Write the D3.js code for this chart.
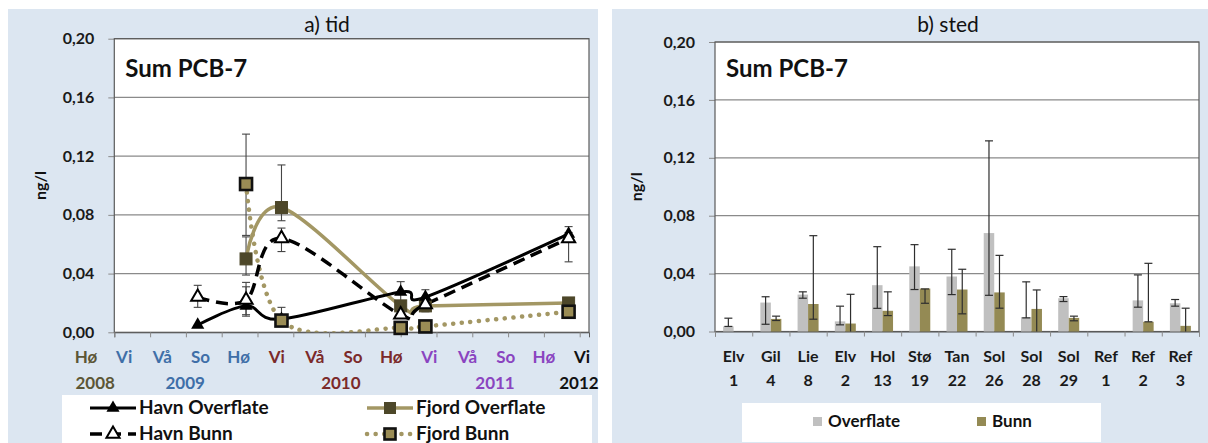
<!DOCTYPE html>
<html><head><meta charset="utf-8">
<script src="https://cdn.jsdelivr.net/npm/d3@7"></script>
<style>
body{margin:0;background:#fff;}
text{font-family:Lato,"Open Sans",sans-serif;}
</style>
</head><body>
<svg id="c" width="1208" height="443"></svg>
<script>
// ---------- shared ----------
const yTicks = [0, 0.04, 0.08, 0.12, 0.16, 0.20];
const yLabel = "ng/l";
const panelLabel = "Sum PCB-7";

// ---------- a) tid ----------
const seasonLabels = ["Hø","Vi","Vå","So","Hø","Vi","Vå","So","Hø","Vi","Vå","So","Hø","Vi"];
const seasonYear   = ["2008","2009","2009","2009","2009","2010","2010","2010","2010","2011","2011","2011","2011","2012"];
const yearLabels   = ["2008","2009","2010","2011","2012"];
const yearLabelIdx = [0.24, 2.6, 6.68, 10.72, 12.92];
const yearColors   = {"2008":"#5c5636","2009":"#3f6fa8","2010":"#7b2a2a","2011":"#8a44c0","2012":"#111111"};

const havnTime = [2.33, 3.68, 4.67, 8.00, 8.69, 12.69];
const havnOverflate         = [0.005, 0.018, 0.009, 0.0275, 0.024, 0.067];
const havnOverflateErrMinus = [null, 0.006, null, 0.007, 0.005, 0.005];
const havnOverflateErrPlus  = [null, 0.013, null, 0.007, 0.005, 0.005];
const havnBunn              = [0.024, 0.022, 0.064, 0.012, 0.019, 0.064];
const havnBunnErrMinus      = [0.007, 0.011, 0.009, null, 0.005, 0.016];
const havnBunnErrPlus       = [0.008, 0.012, 0.007, null, 0.005, 0.004];

const fjordTime = [3.68, 4.67, 8.00, 8.69, 12.69];
const fjordOverflate         = [0.050, 0.085, 0.018, 0.018, 0.020];
const fjordOverflateErrMinus = [0.011, 0.009, null, null, null];
const fjordOverflateErrPlus  = [0.015, 0.029, null, null, null];
const fjordBunn              = [0.101, 0.008, 0.003, 0.004, 0.014];
const fjordBunnErrMinus      = [0.035, 0.003, null, null, null];
const fjordBunnErrPlus       = [0.034, 0.009, null, null, null];

// ---------- b) sted ----------
const siteNames   = ["Elv","Gil","Lie","Elv","Hol","Stø","Tan","Sol","Sol","Sol","Ref","Ref","Ref"];
const siteNumbers = ["1","4","8","2","13","19","22","26","28","29","1","2","3"];
const overflate     = [0.0035, 0.020, 0.0255, 0.007, 0.032, 0.045, 0.038, 0.068, 0.010, 0.023, null, 0.0215, 0.0195];
const overflateLow  = [0.0035, 0.005, 0.023, 0.0046, 0.016, 0.029, 0.0255, 0.025, 0.0094, 0.0207, null, 0.0168, 0.0175];
const overflateHigh = [0.0092, 0.024, 0.0274, 0.0175, 0.0586, 0.060, 0.0568, 0.1317, 0.0343, 0.0241, null, 0.0391, 0.0221];
const bunn     = [null, 0.0087, 0.019, 0.0055, 0.0143, 0.0297, 0.029, 0.027, 0.0156, 0.0094, null, 0.0067, 0.0039];
const bunnLow  = [null, 0.0076, 0.0085, 0, 0.011, 0.0195, 0.0122, 0.0161, 0, 0.0074, null, 0.0067, 0];
const bunnHigh = [null, 0.0106, 0.0662, 0.0257, 0.0274, 0.0294, 0.043, 0.0526, 0.0287, 0.0106, null, 0.0471, 0.0161];
const barSeries = ["Overflate","Bunn"];

// ---------- styles ----------
const BG = "#dce6f1";
const OLIVE_LINE = "#a39764";
const OLIVE_DARK = "#4d4729";
const OLIVE_FILL = "#9a8c55";
const GRAY_BAR = "#c0c0c0";
const BUNN_BAR = "#948a54";
const fmt = d => d.toFixed(2).replace(".", ",");

const svg = d3.select("#c");
svg.append("rect").attr("x",8).attr("y",9).attr("width",590).attr("height",434).attr("fill",BG);
svg.append("rect").attr("x",612).attr("y",9).attr("width",596).attr("height",434).attr("fill",BG);

function frame(g, x0, x1, y, title, titleX, ylabX) {
  g.append("rect").attr("x",x0).attr("y",y.range()[1]).attr("width",x1-x0)
    .attr("height",y.range()[0]-y.range()[1]).attr("fill","#fff");
  g.selectAll(null).data(yTicks.filter(d=>d>0)).enter().append("line")
    .attr("x1",x0).attr("x2",x1).attr("y1",d=>y(d)).attr("y2",d=>y(d))
    .attr("stroke","#8a8a8a").attr("stroke-width",1.2);
  const ax = g.append("g").attr("transform",`translate(${x0},0)`)
    .call(d3.axisLeft(y).tickValues(yTicks).tickFormat(fmt).tickSize(6).tickPadding(14));
  ax.select(".domain").remove();
  ax.selectAll("line").attr("stroke","#8a8a8a");
  ax.selectAll("text").attr("font-size",16).attr("font-weight","bold").attr("fill","#1a1a1a");
  g.append("rect").attr("x",x0).attr("y",y.range()[1]).attr("width",x1-x0)
    .attr("height",y.range()[0]-y.range()[1]).attr("fill","none")
    .attr("stroke","#5a5a5a").attr("stroke-width",1.2);
  g.append("text").attr("x",titleX).attr("y",32).attr("text-anchor","middle")
    .attr("font-size",21).attr("fill","#111").text(title);
  g.append("text").attr("x",x0+11).attr("y",77).attr("font-size",24)
    .attr("font-weight","bold").attr("fill","#111").text(panelLabel);
  g.append("text").attr("transform",`translate(${ylabX},${(y.range()[0]+y.range()[1])/2}) rotate(-90)`)
    .attr("text-anchor","middle").attr("font-size",16).attr("font-weight","bold")
    .attr("fill","#111").text(yLabel);
}

// =================== LEFT ===================
const Lx = d3.scaleLinear().domain([0, 13.26]).range([114.3, 589]);
const Ly = d3.scaleLinear().domain([0, 0.2]).range([332.3, 38.7]);
const gL = svg.append("g");
frame(gL, 114.3, 589, Ly, "a) tid", 327, 46);

const xax = gL.append("g").attr("transform",`translate(0,${Ly(0)})`)
  .call(d3.axisBottom(Lx).tickValues(d3.range(14)).tickFormat("").tickSize(5));
xax.select(".domain").attr("stroke","#5a5a5a");
xax.selectAll("line").attr("stroke","#8a8a8a");

const labX = d3.scaleLinear().domain([0,13]).range([86, 582]);
gL.selectAll(null).data(seasonLabels).enter().append("text")
  .attr("x",(d,i)=>labX(i)).attr("y",363).attr("text-anchor","middle")
  .attr("font-size",17).attr("font-weight","bold")
  .attr("fill",(d,i)=>yearColors[seasonYear[i]]).text(d=>d);
gL.selectAll(null).data(yearLabels).enter().append("text")
  .attr("x",(d,i)=>labX(yearLabelIdx[i])).attr("y",389).attr("text-anchor","middle")
  .attr("font-size",17).attr("font-weight","bold")
  .attr("fill",d=>yearColors[d]).text(d=>d);

svg.append("defs").append("clipPath").attr("id","clipL").append("rect")
  .attr("x",114.3).attr("y",38.7).attr("width",589-114.3).attr("height",332.3-38.7);

const mk = (t, v, em, ep) => t.map((tt,i)=>({t:tt, v:v[i], em:em[i], ep:ep[i]}));
const sHO = mk(havnTime, havnOverflate, havnOverflateErrMinus, havnOverflateErrPlus);
const sHB = mk(havnTime, havnBunn, havnBunnErrMinus, havnBunnErrPlus);
const sFO = mk(fjordTime, fjordOverflate, fjordOverflateErrMinus, fjordOverflateErrPlus);
const sFB = mk(fjordTime, fjordBunn, fjordBunnErrMinus, fjordBunnErrPlus);

const eg = gL.append("g").attr("stroke","#454545").attr("stroke-width",1.1);
[sHO,sHB,sFO,sFB].forEach(s => s.filter(d=>d.em!=null).forEach(d=>{
  const x = Lx(d.t), lo = Math.max(0,d.v-d.em), hi = d.v+d.ep;
  eg.append("line").attr("x1",x).attr("x2",x).attr("y1",Ly(lo)).attr("y2",Ly(hi));
  [lo,hi].forEach(v=>eg.append("line").attr("x1",x-4).attr("x2",x+4).attr("y1",Ly(v)).attr("y2",Ly(v)));
}));

const line = d3.line().x(d=>Lx(d.t)).y(d=>Ly(d.v)).curve(d3.curveCardinal.tension(0));
const lg = gL.append("g").attr("clip-path","url(#clipL)").attr("fill","none");
lg.append("path").datum(sFO).attr("d",line).attr("stroke",OLIVE_LINE).attr("stroke-width",3.5);
lg.append("path").datum(sFB).attr("d",line).attr("stroke",OLIVE_LINE).attr("stroke-width",4.5)
  .attr("stroke-dasharray","0.1 8.5").attr("stroke-linecap","round");
lg.append("path").datum(sHB).attr("d",line).attr("stroke","#000").attr("stroke-width",3.5)
  .attr("stroke-dasharray","12 7");
lg.append("path").datum(sHO).attr("d",line).attr("stroke","#000").attr("stroke-width",3);

const tri = d3.symbol().type(d3.symbolTriangle).size(75);
function sqr(g, x, y, s, fill, stroke, sw){
  g.append("rect").attr("x",x-s/2).attr("y",y-s/2).attr("width",s).attr("height",s)
    .attr("fill",fill).attr("stroke",stroke).attr("stroke-width",sw);
}
function triF(g,x,y){ g.append("path").attr("d",tri).attr("transform",`translate(${x},${y})`).attr("fill","#000"); }
function triO(g,x,y){ g.append("path").attr("d",tri).attr("transform",`translate(${x},${y})`)
  .attr("fill","#fff").attr("stroke","#000").attr("stroke-width",2); }

const mg = gL.append("g");
sFO.forEach(d=>sqr(mg, Lx(d.t), Ly(d.v), 12, OLIVE_DARK, OLIVE_DARK, 1));
sHO.forEach(d=>triF(mg, Lx(d.t), Ly(d.v)));
sHB.forEach(d=>triO(mg, Lx(d.t), Ly(d.v)));
sFB.forEach(d=>sqr(mg, Lx(d.t), Ly(d.v), 12, OLIVE_FILL, "#111", 2.6));

// left legend
svg.append("rect").attr("x",62).attr("y",395).attr("width",530).attr("height",48).attr("fill","#fff");
const legL = svg.append("g");
const legItems = [
  {name:"Havn Overflate", x:90, y:408, kind:"HO"},
  {name:"Fjord Overflate", x:367, y:408, kind:"FO"},
  {name:"Havn Bunn", x:90, y:434, kind:"HB"},
  {name:"Fjord Bunn", x:367, y:434, kind:"FB"}
];
legItems.forEach(it=>{
  const g = legL.append("g");
  const ln = g.append("line").attr("x1",it.x).attr("x2",it.x+46).attr("y1",it.y).attr("y2",it.y);
  const cx = it.x+23;
  if (it.kind==="HO"){ ln.attr("stroke","#000").attr("stroke-width",3); triF(g,cx,it.y); }
  if (it.kind==="HB"){ ln.attr("stroke","#000").attr("stroke-width",3.5).attr("stroke-dasharray","12 7"); triO(g,cx,it.y); }
  if (it.kind==="FO"){ ln.attr("stroke",OLIVE_LINE).attr("stroke-width",3.5); sqr(g,cx,it.y,11,OLIVE_DARK,OLIVE_DARK,1); }
  if (it.kind==="FB"){ ln.attr("stroke",OLIVE_LINE).attr("stroke-width",4.5).attr("stroke-dasharray","0.1 8.5").attr("stroke-linecap","round"); sqr(g,cx,it.y,11,OLIVE_FILL,"#111",2.6); }
  g.append("text").attr("x",it.x+49).attr("y",it.y+6).attr("font-size",19).attr("font-weight","bold")
    .attr("fill","#111").text(it.name);
});

// =================== RIGHT ===================
const categories = siteNames.map((n,i)=>n+" "+siteNumbers[i]);
const Rx = d3.scaleBand().domain(categories).range([715, 1199]);
const Ry = d3.scaleLinear().domain([0,0.2]).range([331.5, 42]);
const gR = svg.append("g");
frame(gR, 715, 1199, Ry, "b) sted", 948, 642);

const rxax = gR.append("g").attr("transform",`translate(0,${Ry(0)})`)
  .call(d3.axisBottom(d3.scaleLinear().domain([0,13]).range([715,1199])).tickValues(d3.range(14)).tickFormat("").tickSize(5));
rxax.select(".domain").attr("stroke","#5a5a5a");
rxax.selectAll("line").attr("stroke","#8a8a8a");

gR.selectAll(null).data(categories).enter().append("text")
  .attr("x",d=>Rx(d)+Rx.bandwidth()/2).attr("y",362).attr("text-anchor","middle")
  .attr("font-size",16).attr("font-weight","bold").attr("fill","#1a1a1a")
  .text((d,i)=>siteNames[i]);
gR.selectAll(null).data(categories).enter().append("text")
  .attr("x",d=>Rx(d)+Rx.bandwidth()/2).attr("y",386).attr("text-anchor","middle")
  .attr("font-size",16).attr("font-weight","bold").attr("fill","#1a1a1a")
  .text((d,i)=>siteNumbers[i]);

const bw = Rx.bandwidth();
const x1 = d3.scaleBand().domain(barSeries).range([bw/2-10.5, bw/2+10.5]);
const barData = [
  {s:"Overflate", v:overflate, lo:overflateLow, hi:overflateHigh, c:GRAY_BAR},
  {s:"Bunn", v:bunn, lo:bunnLow, hi:bunnHigh, c:BUNN_BAR}
];
barData.forEach(bd=>{
  categories.forEach((cat,i)=>{
    if (bd.v[i]==null) return;
    gR.append("rect").attr("x",Rx(cat)+x1(bd.s)).attr("width",x1.bandwidth())
      .attr("y",Ry(bd.v[i])).attr("height",Ry(0)-Ry(bd.v[i])).attr("fill",bd.c);
  });
});
const reg = gR.append("g").attr("stroke","#2e2e2e").attr("stroke-width",1.2);
barData.forEach(bd=>{
  categories.forEach((cat,i)=>{
    if (bd.v[i]==null) return;
    const x = Rx(cat)+x1(bd.s)+x1.bandwidth()/2;
    reg.append("line").attr("x1",x).attr("x2",x).attr("y1",Ry(bd.lo[i])).attr("y2",Ry(bd.hi[i]));
    [bd.lo[i], bd.hi[i]].forEach(v=>{
      if (v>0) reg.append("line").attr("x1",x-4).attr("x2",x+4).attr("y1",Ry(v)).attr("y2",Ry(v));
    });
  });
});

// right legend
svg.append("rect").attr("x",742).attr("y",403).attr("width",359).attr("height",39).attr("fill","#fff");
const legR = [{s:"Overflate", c:GRAY_BAR, x:813},{s:"Bunn", c:BUNN_BAR, x:977}];
legR.forEach(it=>{
  svg.append("rect").attr("x",it.x).attr("y",417).attr("width",9).attr("height",9).attr("fill",it.c);
  svg.append("text").attr("x",it.x+15).attr("y",427).attr("font-size",17).attr("font-weight","bold")
    .attr("fill","#111").text(it.s);
});
</script>
</body></html>
